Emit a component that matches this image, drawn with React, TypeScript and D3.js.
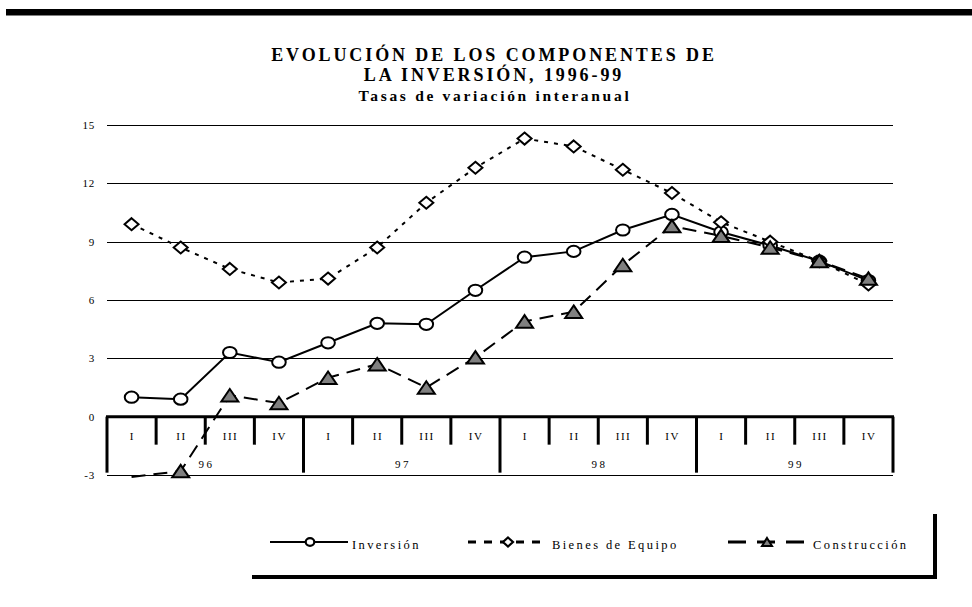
import React from "react";
import * as d3 from "d3";

const quarters = ["I", "II", "III", "IV", "I", "II", "III", "IV", "I", "II", "III", "IV", "I", "II", "III", "IV"];
const years = ["96", "97", "98", "99"];
const yTicks = [15, 12, 9, 6, 3, 0, -3];

const inversion = [1.0, 0.9, 3.3, 2.8, 3.8, 4.8, 4.75, 6.5, 8.2, 8.5, 9.6, 10.4, 9.5, 8.8, 8.0, 7.0];
const bienesEquipo = [9.9, 8.7, 7.6, 6.9, 7.1, 8.7, 11.0, 12.8, 14.3, 13.9, 12.7, 11.5, 10.0, 9.0, 8.0, 6.8];
const construccion = [-3.1, -2.8, 1.1, 0.7, 2.0, 2.7, 1.5, 3.05, 4.9, 5.4, 7.8, 9.8, 9.3, 8.7, 8.0, 7.1];

const titleLines = ["EVOLUCIÓN DE LOS COMPONENTES DE", "LA INVERSIÓN, 1996-99"];
const subtitle = "Tasas de variación interanual";
const seriesNames = ["Inversión", "Bienes de Equipo", "Construcción"];

const W = 972;
const H = 607;
const FONT = "Liberation Serif";

function diamondPath(cx: number, cy: number, w: number, h: number) {
  return `M${cx},${cy - h / 2}L${cx + w / 2},${cy}L${cx},${cy + h / 2}L${cx - w / 2},${cy}Z`;
}
function trianglePath(cx: number, cy: number, w: number, h: number) {
  return `M${cx},${cy - h / 2}L${cx + w / 2},${cy + h / 2}L${cx - w / 2},${cy + h / 2}Z`;
}

export default function App() {
  const x = d3.scaleBand<number>().domain(d3.range(quarters.length)).range([107, 893]).padding(0);
  const bw = x.bandwidth();
  const cx = (i: number) => (x(i) as number) + bw / 2;
  const y = d3.scaleLinear().domain([-3, 15]).range([475, 125]);

  const line = d3
    .line<number>()
    .x((_, i) => cx(i))
    .y((d) => y(d));

  const inRange = (v: number) => v >= -3 && v <= 15;

  const axisY = y(0);
  const quarterTickBottom = axisY + 28;
  const yearTickBottom = axisY + 56;
  const legY = 542;

  return (
    <svg
      width={W}
      height={H}
      viewBox={`0 0 ${W} ${H}`}
      style={{ position: "absolute", left: 0, top: 0, background: "#fff" }}
    >
      <rect x={0} y={0} width={W} height={H} fill="#fff" />
      <rect x={6} y={9} width={966} height={6.5} fill="#000" />

      <g fontFamily={FONT} fontWeight="bold" textAnchor="middle" fill="#000">
        <text x={494} y={61} fontSize={18} letterSpacing={2.9}>
          {titleLines[0]}
        </text>
        <text x={494} y={81} fontSize={18} letterSpacing={2.9}>
          {titleLines[1]}
        </text>
        <text x={495} y={101} fontSize={15.5} letterSpacing={2.7}>
          {subtitle}
        </text>
      </g>

      {yTicks
        .filter((t) => t !== 0)
        .map((t) => (
          <line
            key={"g" + t}
            x1={107}
            x2={893}
            y1={Math.round(y(t)) + 0.5}
            y2={Math.round(y(t)) + 0.5}
            stroke="#000"
            strokeWidth={1}
          />
        ))}

      <g fontFamily={FONT} fontSize={11} textAnchor="end" fill="#000">
        {yTicks.map((t) => (
          <text key={"yl" + t} x={95} y={y(t) + 4} letterSpacing={0.8}>
            {t}
          </text>
        ))}
      </g>

      <line x1={106} x2={894} y1={axisY} y2={axisY} stroke="#000" strokeWidth={3} />
      {d3.range(quarters.length + 1).map((i) => {
        const xx = i < quarters.length ? (x(i) as number) : 893;
        const isYear = i % 4 === 0;
        return (
          <line
            key={"t" + i}
            x1={xx}
            x2={xx}
            y1={axisY}
            y2={isYear ? yearTickBottom : quarterTickBottom}
            stroke="#000"
            strokeWidth={3}
          />
        );
      })}
      <g fontFamily={FONT} fontSize={11} textAnchor="middle" fill="#000">
        {quarters.map((q, i) => (
          <text key={"q" + i} x={cx(i) + 0.7} y={axisY + 23.5} letterSpacing={1.5}>
            {q}
          </text>
        ))}
        {years.map((yr, j) => (
          <text key={"yr" + j} x={(x(j * 4) as number) + bw * 2 + 1.2} y={axisY + 51.5} letterSpacing={2.5}>
            {yr}
          </text>
        ))}
      </g>

      <path d={line(inversion) || ""} fill="none" stroke="#000" strokeWidth={2} />
      <path d={line(bienesEquipo) || ""} fill="none" stroke="#000" strokeWidth={2} strokeDasharray="4,6" />
      <path d={line(construccion) || ""} fill="none" stroke="#000" strokeWidth={2} strokeDasharray="14,8" />

      {inversion.map((v, i) =>
        inRange(v) ? (
          <ellipse key={"c" + i} cx={cx(i)} cy={y(v)} rx={6.8} ry={5.6} fill="#fff" stroke="#000" strokeWidth={2} />
        ) : null
      )}
      {bienesEquipo.map((v, i) =>
        inRange(v) ? (
          <path key={"d" + i} d={diamondPath(cx(i), y(v), 14, 12)} fill="#fff" stroke="#000" strokeWidth={2} />
        ) : null
      )}
      {construccion.map((v, i) =>
        inRange(v) ? (
          <path key={"tr" + i} d={trianglePath(cx(i), y(v), 17, 12.5)} fill="#808080" stroke="#000" strokeWidth={2} />
        ) : null
      )}

      <g>
        <line x1={270} x2={348} y1={legY} y2={legY} stroke="#000" strokeWidth={2} />
        <ellipse cx={310} cy={legY} rx={4.3} ry={3.8} fill="#fff" stroke="#000" strokeWidth={2.2} />
        <line x1={468} x2={548} y1={legY} y2={legY} stroke="#000" strokeWidth={3} strokeDasharray="8,8" />
        <path d={diamondPath(508, legY, 10, 9)} fill="#fff" stroke="#000" strokeWidth={2.2} />
        <line x1={728} x2={804} y1={legY} y2={legY} stroke="#000" strokeWidth={3} strokeDasharray="18,11" />
        <path d={trianglePath(767, legY, 10, 8)} fill="#808080" stroke="#000" strokeWidth={2} />
        <g fontFamily={FONT} fontSize={12.5} fill="#000" letterSpacing={2.4}>
          <text x={352} y={549}>{seriesNames[0]}</text>
          <text x={552} y={549}>{seriesNames[1]}</text>
          <text x={813} y={549}>{seriesNames[2]}</text>
        </g>
        <line x1={252} x2={937} y1={577} y2={577} stroke="#000" strokeWidth={4} />
        <line x1={935} x2={935} y1={514} y2={579} stroke="#000" strokeWidth={4} />
      </g>
    </svg>
  );
}
